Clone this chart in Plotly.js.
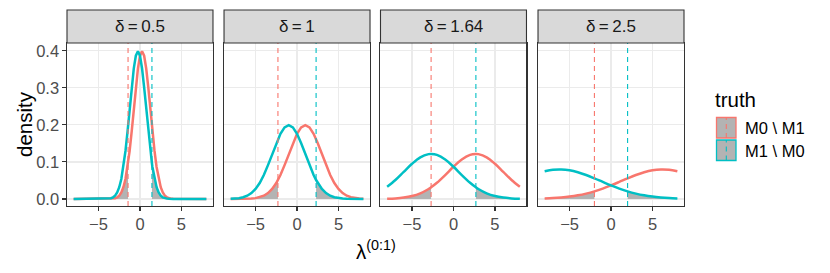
<!DOCTYPE html>
<html>
<head>
<meta charset="utf-8">
<script src="https://cdn.plot.ly/plotly-3.0.1.min.js"></script>
<style>html,body{margin:0;padding:0;background:#fff;}#chart{width:830px;height:273px;}</style>
</head>
<body>
<div id="chart"></div>
<script>
// ---- data ----
const panelLabels = ['δ\u2009=\u20090.5', 'δ\u2009=\u20091', 'δ\u2009=\u20091.64', 'δ\u2009=\u20092.5'];
const seriesNames = ['M0 \\ M1', 'M1 \\ M0'];
const redCutoffs = [-1.44, -2.3, -2.7, -2.0];
const cyanCutoffs = [1.44, 2.3, 2.7, 2.0];

// panel 1 (δ = 0.5)
const p1RedX = [-8,-4,-3.75,-3.5,-3.25,-3,-2.75,-2.5,-2.25,-2,-1.75,-1.5,-1.44,-1.25,-1,-0.75,-0.5,-0.25,0,0.25,0.5,0.75,1,1.25,1.5,1.75,2,2.25,2.5,2.75,3,3.25,3.5,3.75,4,8];
const p1RedY = [0,0.00005,0.00013,0.00035,0.00087,0.00203,0.00443,0.00909,0.01753,0.03174,0.05399,0.08628,0.09564,0.12952,0.18265,0.24197,0.30114,0.35207,0.38667,0.39894,0.38667,0.35207,0.30114,0.24197,0.18265,0.12952,0.08628,0.05399,0.03174,0.01753,0.00909,0.00443,0.00203,0.00087,0.00035,0];
const p1CyanX = [-8,-4,-3.75,-3.5,-3.25,-3,-2.75,-2.5,-2.25,-2,-1.75,-1.5,-1.25,-1,-0.75,-0.5,-0.25,0,0.25,0.5,0.75,1,1.25,1.44,1.5,1.75,2,2.25,2.5,2.75,3,3.25,3.5,3.75,4,8];
const p1CyanY = [0,0.00035,0.00087,0.00203,0.00443,0.00909,0.01753,0.03174,0.05399,0.08628,0.12952,0.18265,0.24197,0.30114,0.35207,0.38667,0.39894,0.38667,0.35207,0.30114,0.24197,0.18265,0.12952,0.09564,0.08628,0.05399,0.03174,0.01753,0.00909,0.00443,0.00203,0.00087,0.00035,0.00013,0.00005,0];

// panel 2 (δ = 1)
const p2RedX = [-8,-7.5,-7,-6.5,-6,-5.5,-5,-4.5,-4,-3.5,-3,-2.5,-2.3,-2,-1.5,-1,-0.5,0,0.5,1,1.5,2,2.5,3,3.5,4,4.5,5,5.5,6,6.5,7,7.5,8];
const p2RedY = [0.00001,0.00002,0.00007,0.00018,0.00044,0.00101,0.00222,0.00455,0.00876,0.01587,0.02700,0.04314,0.05113,0.06476,0.09133,0.12099,0.15057,0.17603,0.19333,0.19947,0.19333,0.17603,0.15057,0.12099,0.09133,0.06476,0.04314,0.02700,0.01587,0.00876,0.00455,0.00222,0.00101,0.00044];
const p2CyanX = [-8,-7.5,-7,-6.5,-6,-5.5,-5,-4.5,-4,-3.5,-3,-2.5,-2,-1.5,-1,-0.5,0,0.5,1,1.5,2,2.3,2.5,3,3.5,4,4.5,5,5.5,6,6.5,7,7.5,8];
const p2CyanY = [0.00044,0.00101,0.00222,0.00455,0.00876,0.01587,0.02700,0.04314,0.06476,0.09133,0.12099,0.15057,0.17603,0.19333,0.19947,0.19333,0.17603,0.15057,0.12099,0.09133,0.06476,0.05113,0.04314,0.02700,0.01587,0.00876,0.00455,0.00222,0.00101,0.00044,0.00018,0.00007,0.00002,0.00001];

// panel 3 (δ = 1.64)
const p3RedX = [-8,-7,-6,-5,-4,-3,-2.7,-2,-1,0,1,2,2.69,3,4,5,6,7,8];
const p3RedY = [0.00060,0.00155,0.00364,0.00779,0.01520,0.02701,0.03153,0.04376,0.06460,0.08689,0.10651,0.11897,0.12163,0.12109,0.11231,0.09491,0.07310,0.05130,0.03280];
const p3CyanX = [-8,-7,-6,-5,-4,-3,-2.69,-2,-1,0,1,2,2.7,3,4,5,6,7,8];
const p3CyanY = [0.03280,0.05130,0.07310,0.09491,0.11231,0.12109,0.12163,0.11897,0.10651,0.08689,0.06460,0.04376,0.03153,0.02701,0.01520,0.00779,0.00364,0.00155,0.00060];

// panel 4 (δ = 2.5)
const p4RedX = [-8,-7,-6,-5,-4,-3,-2,-1,0,1,2,3,4,5,6,7,8];
const p4RedY = [0.00138,0.00238,0.00397,0.00635,0.00976,0.01441,0.02045,0.02789,0.03653,0.04598,0.05560,0.06460,0.07211,0.07733,0.07969,0.07890,0.07505];
const p4CyanX = [-8,-7,-6,-5,-4,-3,-2,-1,0,1,2,3,4,5,6,7,8];
const p4CyanY = [0.07505,0.07890,0.07969,0.07733,0.07211,0.06460,0.05560,0.04598,0.03653,0.02789,0.02045,0.01441,0.00976,0.00635,0.00397,0.00238,0.00138];

const xTickVals = [-5, 0, 5];
const xTickText = ['\u22125', '0', '5'];
const yTickVals = [0, 0.1, 0.2, 0.3, 0.4];
const yTickText = ['0.0', '0.1', '0.2', '0.3', '0.4'];

// ---- styling ----
const RED = '#F8766D', CYAN = '#00BFC4', SHADE = '#B3B3B3';
const FONT = 'Liberation Sans, Arial, Helvetica, sans-serif';
const W = 830, H = 273, ML = 67, MR = 146, MT = 43, MB = 67;
const PW = W - ML - MR, PH = H - MT - MB;
const px = v => (v - ML) / PW;
const py = v => (H - MB - v) / PH;
const SMALL = 16.5, BIG = 20.5;

const panels = [
  {rx: p1RedX, ry: p1RedY, cx: p1CyanX, cy: p1CyanY, shape: 'linear'},
  {rx: p2RedX, ry: p2RedY, cx: p2CyanX, cy: p2CyanY, shape: 'linear'},
  {rx: p3RedX, ry: p3RedY, cx: p3CyanX, cy: p3CyanY, shape: 'spline'},
  {rx: p4RedX, ry: p4RedY, cx: p4CyanX, cy: p4CyanY, shape: 'spline'}
];
const domains = [[0, 0.2366], [0.2545, 0.4911], [0.5081, 0.7447], [0.7634, 1]];

const traces = [];
const shapes = [];
const annotations = [];
const layout = {
  width: W, height: H,
  margin: {l: ML, r: MR, t: MT, b: MB, pad: 0},
  paper_bgcolor: '#FFFFFF', plot_bgcolor: '#FFFFFF',
  showlegend: false,
  font: {family: FONT, color: '#4D4D4D'}
};

panels.forEach((p, i) => {
  const k = i === 0 ? '' : String(i + 1);
  const xa = 'x' + k, ya = 'y' + k;
  const rtX = [], rtY = [];
  p.rx.forEach((x, j) => { if (x <= redCutoffs[i]) { rtX.push(x); rtY.push(p.ry[j]); } });
  const ctX = [], ctY = [];
  p.cx.forEach((x, j) => { if (x >= cyanCutoffs[i]) { ctX.push(x); ctY.push(p.cy[j]); } });
  traces.push({x: rtX, y: rtY, xaxis: xa, yaxis: ya, type: 'scatter', mode: 'lines',
    fill: 'tozeroy', fillcolor: SHADE, line: {width: 0, color: RED, shape: p.shape}, hoverinfo: 'skip'});
  traces.push({x: ctX, y: ctY, xaxis: xa, yaxis: ya, type: 'scatter', mode: 'lines',
    fill: 'tozeroy', fillcolor: SHADE, line: {width: 0, color: CYAN, shape: p.shape}, hoverinfo: 'skip'});
  traces.push({x: p.rx, y: p.ry, xaxis: xa, yaxis: ya, type: 'scatter', mode: 'lines', name: seriesNames[0],
    line: {color: RED, width: 2.5, shape: p.shape}});
  traces.push({x: p.cx, y: p.cy, xaxis: xa, yaxis: ya, type: 'scatter', mode: 'lines', name: seriesNames[1],
    line: {color: CYAN, width: 2.5, shape: p.shape}});

  layout['xaxis' + k] = {
    domain: domains[i], anchor: ya, range: [-8.8, 8.8],
    tickmode: 'array', tickvals: xTickVals, ticktext: xTickText,
    showgrid: true, gridcolor: '#EBEBEB', gridwidth: 1.2, zeroline: false,
    showline: true, mirror: true, linecolor: '#333333', linewidth: 1.1,
    ticks: 'outside', ticklen: 3.5, tickwidth: 1.1, tickcolor: '#333333',
    tickfont: {family: FONT, size: SMALL, color: '#4D4D4D'}, fixedrange: true
  };
  layout['yaxis' + k] = {
    domain: [0, 1], anchor: xa, range: [-0.019, 0.421],
    tickmode: 'array', tickvals: yTickVals, ticktext: yTickText,
    showgrid: true, gridcolor: '#EBEBEB', gridwidth: 1.2, zeroline: false,
    showline: true, mirror: true, linecolor: '#333333', linewidth: 1.1,
    ticks: i === 0 ? 'outside' : '', ticklen: 3.5, tickwidth: 1.1, tickcolor: '#333333',
    showticklabels: i === 0,
    tickfont: {family: FONT, size: SMALL, color: '#4D4D4D'}, fixedrange: true
  };
  if (i > 0) layout['yaxis' + k].matches = 'y';

  shapes.push({type: 'line', xref: xa, yref: ya + ' domain', x0: redCutoffs[i], x1: redCutoffs[i], y0: 0, y1: 1,
    line: {color: RED, width: 1.1, dash: '5px,4px'}, layer: 'above'});
  shapes.push({type: 'line', xref: xa, yref: ya + ' domain', x0: cyanCutoffs[i], x1: cyanCutoffs[i], y0: 0, y1: 1,
    line: {color: CYAN, width: 1.1, dash: '5px,4px'}, layer: 'above'});
  shapes.push({type: 'rect', xref: xa + ' domain', yref: 'paper', x0: 0, x1: 1, y0: 1, y1: py(10),
    fillcolor: '#D9D9D9', line: {color: '#333333', width: 1.1}, layer: 'above'});
  annotations.push({text: panelLabels[i], xref: xa + ' domain', yref: 'paper', x: 0.5, y: py(26.5),
    xanchor: 'center', yanchor: 'middle', showarrow: false,
    font: {family: FONT, size: SMALL + 0.5, color: '#1A1A1A'}});
});

annotations.push({text: 'λ<sup>(0:1)</sup>', xref: 'paper', yref: 'paper', x: 0.5, y: py(250),
  xanchor: 'center', yanchor: 'middle', showarrow: false, font: {family: FONT, size: BIG, color: '#000000'}});
annotations.push({text: 'density', xref: 'paper', yref: 'paper', x: px(24.5), y: 0.5, textangle: -90,
  xanchor: 'center', yanchor: 'middle', showarrow: false, font: {family: FONT, size: BIG, color: '#000000'}});

annotations.push({text: 'truth', xref: 'paper', yref: 'paper', x: px(713), y: py(99),
  xanchor: 'left', yanchor: 'middle', showarrow: false, font: {family: FONT, size: BIG, color: '#000000'}});
const keyTops = [117, 139.5];
const keyColors = [RED, CYAN];
keyTops.forEach((t, j) => {
  shapes.push({type: 'rect', xref: 'paper', yref: 'paper', x0: px(716.5), x1: px(736), y0: py(t + 21), y1: py(t + 0.5),
    fillcolor: SHADE, line: {color: keyColors[j], width: 1.3}});
  shapes.push({type: 'line', xref: 'paper', yref: 'paper', x0: px(726.3), x1: px(726.3), y0: py(t + 21), y1: py(t + 0.5),
    line: {color: keyColors[j], width: 1.1, dash: '5px,4px'}});
  annotations.push({text: seriesNames[j], xref: 'paper', yref: 'paper', x: px(743), y: py(t + 11),
    xanchor: 'left', yanchor: 'middle', showarrow: false, font: {family: FONT, size: SMALL, color: '#000000'}});
});

layout.shapes = shapes;
layout.annotations = annotations;

Plotly.newPlot('chart', traces, layout, {staticPlot: true, displayModeBar: false});
</script>
</body>
</html>
